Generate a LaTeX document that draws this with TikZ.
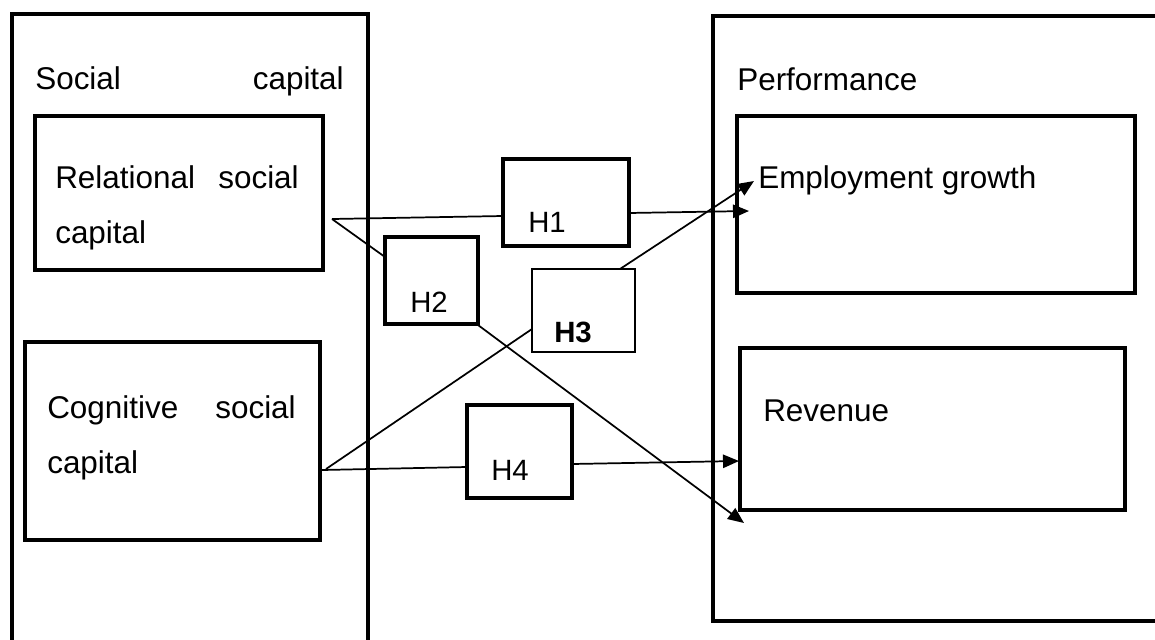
\documentclass[tikz,border=0pt]{standalone}
\usepackage{fontspec}
\setmainfont{Liberation Sans}
\usetikzlibrary{fit,arrows.meta}
\begin{document}
\begin{tikzpicture}[x=0.75pt,y=-0.75pt,
  thickbox/.style={draw,line width=3pt,inner sep=0pt,outer sep=0pt},
  thinbox/.style={draw,line width=0.8pt,inner sep=0pt,outer sep=0pt},
  lbl/.style={inner sep=0pt,font=\fontsize{23.6}{28}\selectfont},
  hlbl/.style={inner sep=0pt,font=\fontsize{22}{26}\selectfont},
  conn/.style={line width=1.3pt},
  arr/.style={conn,-{Triangle[length=12pt,width=10pt]}}]
\useasboundingbox (0,0) rectangle (1155,639);
% outer boxes (partly cut by the page)
\node[thickbox,fit={(12,14) (368,680)}] (sc) {};
\node[thickbox,line width=2.8pt,fit={(713,16) (1200,621)}] (perf) {};
% inner boxes
\node[thickbox,fit={(35,116) (323,270)}] (rel) {};
\node[thickbox,fit={(25,342) (320,540)}] (cog) {};
\node[thickbox,fit={(737,116) (1135,293)}] (emp) {};
\node[thickbox,fit={(740,348) (1125,510)}] (rev) {};
\node[thickbox,fit={(503,159) (629,246)}] (h1) {};
\node[thickbox,fit={(385,237) (478,324)}] (h2) {};
\node[thinbox,fit={(532,269) (635,352)}] (h3) {};
\node[thickbox,fit={(467,405) (572,498)}] (h4) {};
% texts
\node[lbl,anchor=base west] (t1) at (35,89) {Social};
\node[lbl,anchor=base east] (t2) at (344,89) {capital};
\node[lbl,anchor=base west] (t3) at (55,188) {Relational};
\node[lbl,anchor=base east] (t4) at (299,188) {social};
\node[lbl,anchor=base west] (t5) at (55,243) {capital};
\node[lbl,anchor=base west] (t6) at (47,418) {Cognitive};
\node[lbl,anchor=base east] (t7) at (296,418) {social};
\node[lbl,anchor=base west] (t8) at (47,473) {capital};
\node[lbl,anchor=base west] (t9) at (737,90) {Performance};
\node[lbl,anchor=base west] (t10) at (758,188) {Employment growth};
\node[lbl,anchor=base west] (t11) at (763,421) {Revenue};
\node[hlbl,anchor=base west] (l1) at (528,232) {H1};
\node[hlbl,anchor=base west] (l2) at (410,312) {H2};
\node[hlbl,anchor=base west,font=\fontsize{22}{26}\selectfont\bfseries] (l3) at (554,342) {H3};
\node[hlbl,anchor=base west] (l4) at (491,480) {H4};
% connector points
\coordinate (rp) at (332,219);
\coordinate (cp) at (326,469);
\coordinate (h1in) at (503,216);
\coordinate (h1out) at (629,213);
\coordinate (empA) at (749,211);
\coordinate (h2in) at (385,257);
\coordinate (h2out) at (478,325);
\coordinate (revB) at (744,523);
\coordinate (h3in) at (532,329);
\coordinate (h3out) at (620,269);
\coordinate (empB) at (754,181);
\coordinate (cp2) at (322,470);
\coordinate (h4in) at (467,467);
\coordinate (h4out) at (572,464);
\coordinate (revA) at (739,461);
% connectors
\draw[conn] (rp) -- (h1in);
\draw[arr] (h1out) -- (empA);
\draw[conn] (rp) -- (h2in);
\draw[arr] (h2out) -- (revB);
\draw[conn] (cp) -- (h3in);
\draw[arr] (h3out) -- (empB);
\draw[conn] (cp2) -- (h4in);
\draw[arr] (h4out) -- (revA);
\end{tikzpicture}
\end{document}
